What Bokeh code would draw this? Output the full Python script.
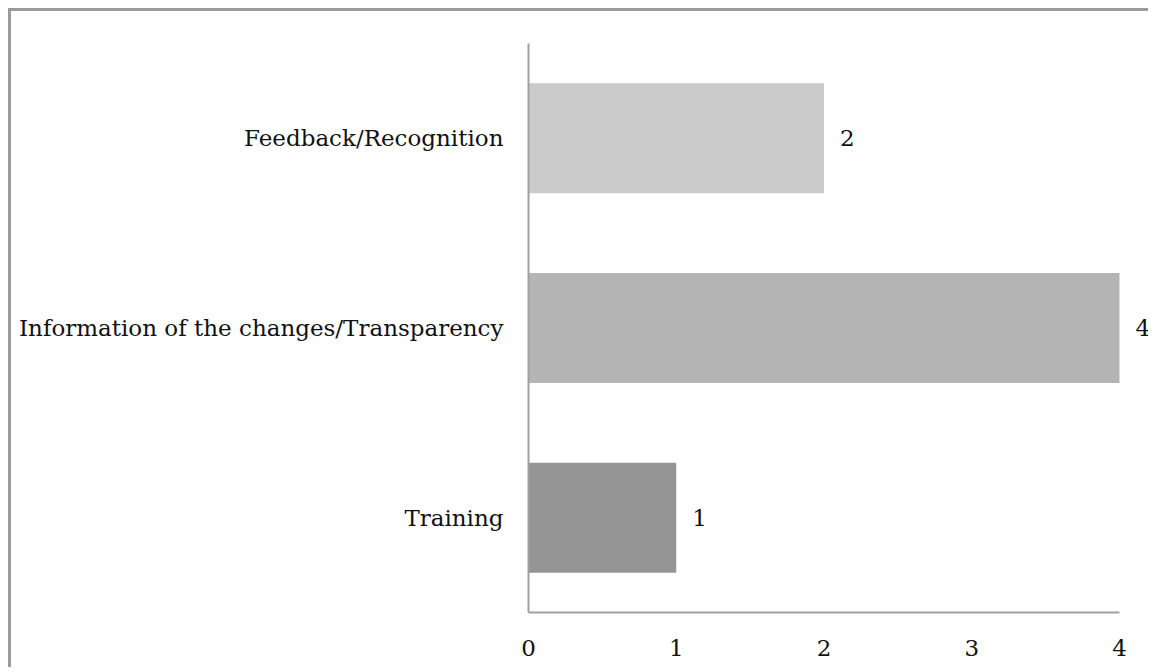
from bokeh.plotting import figure
from bokeh.models import ColumnDataSource, Range1d, FactorRange, FixedTicker, LabelSet
from bokeh.core.properties import value
from bokeh.embed import file_html
from bokeh.resources import INLINE

categories = ["Training", "Information of the changes/Transparency", "Feedback/Recognition"]
counts = [1, 4, 2]
colors = ["#959595", "#b4b4b4", "#cbcbcb"]
x_ticks = [0, 1, 2, 3, 4]

FONT = "DejaVu Serif"
FS = "23px"

src = ColumnDataSource(dict(cat=categories, val=counts, col=colors,
                            lab=[str(v) for v in counts]))

p = figure(width=1140, height=659, output_backend="svg", toolbar_location=None,
           x_range=Range1d(0, 4.21), y_range=FactorRange(factors=categories),
           min_border_left=517, min_border_right=1, min_border_top=32, min_border_bottom=58,
           styles={"margin-left": "8px", "margin-top": "8px",
                   "border-left": "3px solid #9a9a9a", "border-top": "3px solid #9a9a9a"})
p.outline_line_color = None
p.grid.grid_line_color = None
p.background_fill_color = "white"
p.border_fill_color = "white"

p.hbar(y="cat", right="val", left=0, height=0.58, fill_color="col", line_color=None, source=src)
labels = LabelSet(x="val", y="cat", text="lab", source=src, x_offset=16, text_align="left",
                  text_baseline="middle", text_font=value(FONT), text_font_size=FS,
                  text_color="#111111")
p.add_layout(labels)

p.xaxis.ticker = FixedTicker(ticks=x_ticks)
p.xaxis.bounds = (0, 4)
p.xaxis.major_tick_line_color = None
p.xaxis.minor_tick_line_color = None
p.xaxis.axis_line_color = "#a0a0a0"
p.xaxis.axis_line_width = 2
p.xaxis.major_label_standoff = 21
p.xaxis.major_label_text_font = FONT
p.xaxis.major_label_text_font_size = FS
p.xaxis.major_label_text_color = "#111111"

p.yaxis.major_tick_line_color = None
p.yaxis.minor_tick_line_color = None
p.yaxis.axis_line_color = "#a0a0a0"
p.yaxis.axis_line_width = 2
p.yaxis.major_label_standoff = 19
p.yaxis.major_label_text_font = FONT
p.yaxis.major_label_text_font_size = FS
p.yaxis.major_label_text_color = "#111111"

open("out.html", "w").write(file_html(p, INLINE))
